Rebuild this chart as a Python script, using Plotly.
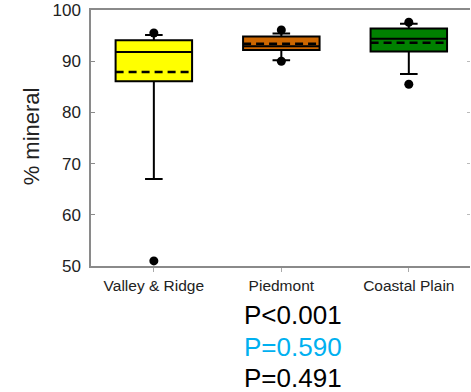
import plotly.graph_objects as go

regions = ["Valley & Ridge", "Piedmont", "Coastal Plain"]
positions = [0, 1, 2]
q1 = [86.1, 92.2, 91.9]
median = [91.8, 92.9, 94.4]
q3 = [94.1, 94.8, 96.4]
lower_fence = [67.0, 90.2, 87.5]
upper_fence = [95.1, 95.4, 97.3]
means = [87.9, 93.4, 93.6]
outliers = [[95.5, 51.0], [96.1, 90.0], [97.6, 85.5]]
fill_colors = ["#FFFF00", "#CC6600", "#008000"]
p_texts = ["P<0.001", "P=0.590", "P=0.491"]
p_colors = ["#000000", "#00B0F0", "#000000"]
y_ticks = [50, 60, 70, 80, 90, 100]

BOX_W = 0.6
FONT = "Arial, Liberation Sans, sans-serif"

fig = go.Figure()
for i, name in enumerate(regions):
    fig.add_trace(go.Box(
        x=[positions[i]], q1=[q1[i]], median=[median[i]], q3=[q3[i]],
        lowerfence=[lower_fence[i]], upperfence=[upper_fence[i]],
        width=BOX_W, whiskerwidth=0.23, boxpoints=False,
        fillcolor=fill_colors[i], line=dict(color="black", width=2),
        name=name, showlegend=False, hoverinfo="skip",
    ))
    fig.add_trace(go.Scatter(
        x=[positions[i] - BOX_W / 2, positions[i] + BOX_W / 2],
        y=[means[i], means[i]], mode="lines",
        line=dict(color="black", width=2.5, dash="8px,5px"),
        showlegend=False, hoverinfo="skip",
    ))
    fig.add_trace(go.Scatter(
        x=[positions[i]] * len(outliers[i]), y=outliers[i], mode="markers",
        marker=dict(color="black", size=9),
        showlegend=False, hoverinfo="skip",
    ))

# invisible trace for the right-hand tick axis
fig.add_trace(go.Scatter(x=[positions[0]], y=[75], yaxis="y2", mode="markers",
                         marker=dict(opacity=0), showlegend=False, hoverinfo="skip"))

annotations = [dict(
    text="% mineral", xref="paper", yref="paper", x=-0.158, y=0.507,
    textangle=-90, showarrow=False, xanchor="center", yanchor="middle",
    font=dict(family=FONT, size=22, color="#222222"),
)]
p_y = [-0.191, -0.316, -0.437]
for t, c, yy in zip(p_texts, p_colors, p_y):
    annotations.append(dict(
        text=t, xref="paper", yref="paper", x=0.398, y=yy, showarrow=False,
        xanchor="left", yanchor="middle",
        font=dict(family=FONT, size=26, color=c),
    ))

fig.update_layout(
    width=471, height=392,
    margin=dict(l=91, r=1, t=10, b=126, pad=0),
    paper_bgcolor="white", plot_bgcolor="white",
    font=dict(family=FONT, color="#222222"),
    xaxis=dict(
        range=[-0.493, 2.48], tickvals=positions, ticktext=regions,
        showline=True, linecolor="#8a8a8a", linewidth=2, mirror=True,
        ticks="outside", ticklen=4, tickcolor="#aaaaaa", tickwidth=1,
        showgrid=False, zeroline=False, tickfont=dict(size=15.5, color="#222222"),
        ticklabelstandoff=0,
    ),
    yaxis=dict(
        range=[50, 100], tickvals=y_ticks, showline=True, linecolor="#8a8a8a",
        linewidth=1.5, mirror=False, ticks="inside", ticklen=4, tickcolor="#8a8a8a",
        showgrid=False, zeroline=False, tickfont=dict(size=17, color="#222222"),
        ticklabelstandoff=5,
    ),
    yaxis2=dict(
        range=[50, 100], overlaying="y", side="right", tickvals=y_ticks[1:-1],
        ticks="inside", ticklen=3, tickcolor="#bbbbbb", showticklabels=False,
        showline=False, showgrid=False, zeroline=False, automargin=False,
    ),
    annotations=annotations,
)

fig.write_html(
    "out.html",
    config={"displayModeBar": False},
    post_script="document.body.style.margin='0';document.body.style.overflow='hidden';",
)
